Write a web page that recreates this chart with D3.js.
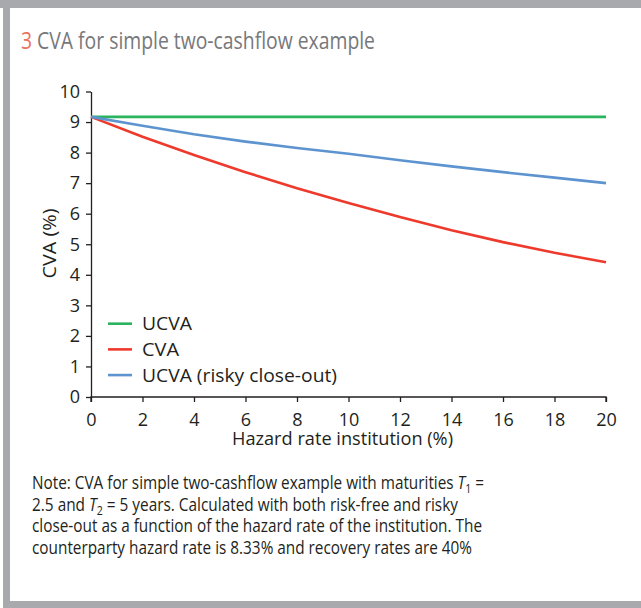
<!DOCTYPE html>
<html lang="en">
<meta charset="utf-8">
<style>
body { margin: 0; background: #fff; }
svg text { font-family: "Open Sans", "Noto Sans", sans-serif; }
.line { fill: none; stroke-width: 2.6px; }
.axis path, .axis line { stroke: #231f20; stroke-width: 1.3px; }
</style>
<body>
<script src="https://d3js.org/d3.v7.min.js"></script>
<script>

// hazard rate of the institution (%)
var hazard = [0, 2, 4, 6, 8, 10, 12, 14, 16, 18, 20];
var ucva      = [9.17, 9.17, 9.17, 9.17, 9.17, 9.17, 9.17, 9.17, 9.17, 9.17, 9.17];
var cva       = [9.17, 8.52, 7.92, 7.36, 6.83, 6.35, 5.89, 5.46, 5.07, 4.72, 4.41];
var ucvaRisky = [9.17, 8.88, 8.60, 8.36, 8.15, 7.96, 7.75, 7.55, 7.36, 7.18, 7.00];

var xTicks = [0, 2, 4, 6, 8, 10, 12, 14, 16, 18, 20];
var yTicks = [0, 1, 2, 3, 4, 5, 6, 7, 8, 9, 10];

var seriesNames = ["UCVA", "CVA", "UCVA (risky close-out)"];
var seriesColors = ["#2bb35e", "#ee3a2c", "#5d94d0"];
var seriesData = [ucva, cva, ucvaRisky];

var noteLines = [
  ["Note: CVA for simple two-cashflow example with maturities ", "T", "1", " ="],
  ["2.5 and ", "T", "2", " = 5 years. Calculated with both risk-free and risky"],
  ["close-out as a function of the hazard rate of the institution. The"],
  ["counterparty hazard rate is 8.33% and recovery rates are 40%"]
];
var noteWidths = [452, 426, 450, 440];
var legendWidths = [50, 37, 195];

var W = 641, H = 608;
var margin = {top: 91.5, left: 91, right: 35, bottom: 211};
var width = W - margin.left - margin.right,
    height = H - margin.top - margin.bottom;

var svg = d3.select("body").append("svg")
    .attr("width", W)
    .attr("height", H);

// squeeze a text to the width it has in the original
function fit(sel, w) {
  sel.attr("textLength", w).attr("lengthAdjust", "spacingAndGlyphs");
}

// frame
svg.append("rect").attr("x", 0).attr("y", 0).attr("width", W).attr("height", 8).attr("fill", "#a7a9ac");
svg.append("rect").attr("x", 3).attr("y", 0).attr("width", 7).attr("height", H).attr("fill", "#a7a9ac");
svg.append("rect").attr("x", 3).attr("y", 601).attr("width", W).attr("height", 7).attr("fill", "#a7a9ac");

// title
var title = svg.append("text")
    .attr("x", 21)
    .attr("y", 49)
    .style("font-size", "24.5px");
title.append("tspan").attr("fill", "#e8735c").text("3 ");
title.append("tspan").attr("fill", "#77787b").text("CVA for simple two-cashflow example");
fit(title, 354);

var g = svg.append("g")
    .attr("transform", "translate(" + margin.left + "," + margin.top + ")");

var x = d3.scaleLinear().domain([0, 20]).range([0, width]);
var y = d3.scaleLinear().domain([0, 10]).range([height, 0]);

var xAxis = g.append("g")
    .attr("class", "axis")
    .attr("transform", "translate(0," + height + ")")
    .call(d3.axisBottom(x).tickValues(xTicks).tickSize(5).tickSizeOuter(5).tickPadding(11))
    .call(function(a) { a.select(".domain").attr("d", "M0,5V0H" + width + "V5"); });

var yAxis = g.append("g")
    .attr("class", "axis")
    .call(d3.axisLeft(y).tickValues(yTicks).tickSize(5).tickSizeOuter(0).tickPadding(6));

[xAxis, yAxis].forEach(function(a) {
  a.selectAll("text")
      .style("font-size", "18px")
      .style("font-family", "'Open Sans', sans-serif")
      .attr("fill", "#231f20");
});

// axis titles
var yTitle = svg.append("text")
    .attr("transform", "translate(56,243.5) rotate(-90)")
    .attr("text-anchor", "middle")
    .style("font-size", "18px")
    .attr("fill", "#231f20")
    .text("CVA (%)");
fit(yTitle, 70);

var xTitle = svg.append("text")
    .attr("x", 342.5)
    .attr("y", 445)
    .attr("text-anchor", "middle")
    .style("font-size", "18px")
    .attr("fill", "#231f20")
    .text("Hazard rate institution (%)");
fit(xTitle, 221);

// lines
var line = d3.line()
    .x(function(d, i) { return x(hazard[i]); })
    .y(function(d) { return y(d); });

seriesData.forEach(function(s, k) {
  g.append("path")
      .datum(s)
      .attr("class", "line")
      .attr("stroke", seriesColors[k])
      .attr("d", line);
});

// legend
var legend = g.append("g").attr("transform", "translate(" + x(0.66) + "," + y(2.4) + ")");
seriesNames.forEach(function(name, k) {
  var row = legend.append("g").attr("transform", "translate(0," + (k * 25.7) + ")");
  row.append("line")
      .attr("x1", 0).attr("x2", 24)
      .attr("stroke", seriesColors[k])
      .attr("stroke-width", 2.6);
  var t = row.append("text")
      .attr("x", 34)
      .attr("dy", "0.36em")
      .style("font-size", "18px")
      .attr("fill", "#231f20")
      .text(name);
  fit(t, legendWidths[k]);
});

// note
noteLines.forEach(function(parts, i) {
  var t = svg.append("text")
      .attr("x", 32)
      .attr("y", 489 + i * 21.7)
      .attr("fill", "#231f20")
      .style("font-size", "17.5px");
  t.append("tspan").text(parts[0]);
  if (parts.length > 1) {
    t.append("tspan").style("font-style", "italic").text(parts[1]);
    t.append("tspan").attr("dy", 4).style("font-size", "12px").text(parts[2]);
    t.append("tspan").attr("dy", -4).text(parts[3]);
  }
  fit(t, noteWidths[i]);
});

</script>
</body>
</html>
